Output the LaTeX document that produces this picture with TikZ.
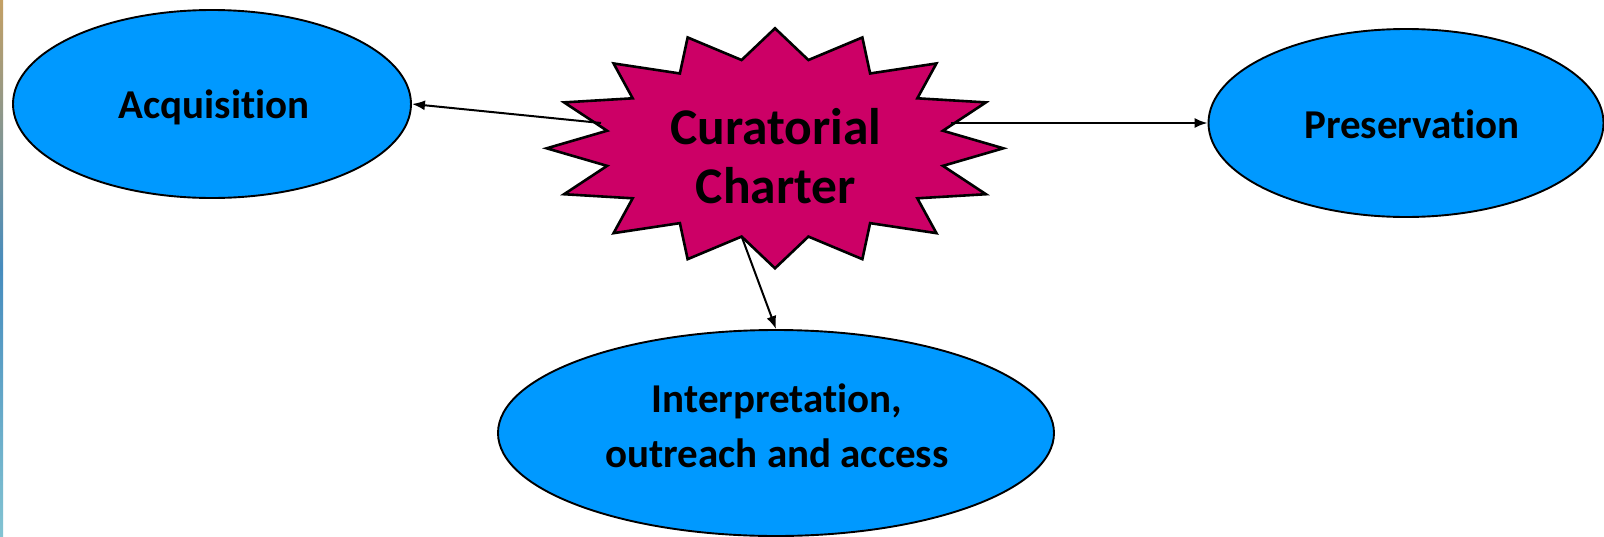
\documentclass[tikz,border=0pt]{standalone}
\usepackage{fontspec}
\setmainfont[Ligatures=NoCommon]{Carlito}
\usetikzlibrary{shapes.geometric,arrows.meta}
\definecolor{topicblue}{RGB}{0,153,255}
\definecolor{charterpink}{RGB}{204,0,102}
\definecolor{stripA}{RGB}{196,160,100}
\definecolor{stripB}{RGB}{70,140,190}
\definecolor{stripC}{RGB}{130,195,210}
\tikzset{
  topic/.style={ellipse, draw=black, line width=1.9pt, fill=topicblue, inner sep=0pt},
  label/.style={font=\bfseries\fontsize{41}{55}\selectfont, align=center, inner sep=0pt},
  starbox/.style={draw=black, line width=2.6pt, fill=charterpink, line join=miter},
  link/.style={draw=black, line width=2pt, -{Latex[length=13pt,width=10pt]}},
}
\begin{document}
\begin{tikzpicture}[x=1pt, y=-1pt]
  % canvas
  \fill[white] (0,0) rectangle (1604,536);
  \useasboundingbox (0,0) rectangle (1604,536);
  \shade[top color=stripA, bottom color=stripC, middle color=stripB] (0,0) rectangle (3,536);

  % topic ellipses
  \node[topic, minimum width=398pt, minimum height=188pt] (acq) at (212,104) {};
  \node[topic, minimum width=395pt, minimum height=188pt] (pres) at (1406,123) {};
  \node[topic, minimum width=556pt, minimum height=206pt] (interp) at (776,433) {};

  \node[label, anchor=base] (acqt) at (214,118.3) {Acquisition};
  \node[label, anchor=base] (prest) at (1412,138) {Preservation};
  \node[label] (interpt) at (777,426) {Interpretation,\\outreach and access};

  % sixteen-point burst
  \draw[starbox, shift={(775,148.3)}] (90:228.3pt and 120pt)
    \foreach \i in {0,...,15}{
      -- ({90+\i*22.5+11.25}:171.2pt and 90pt)
      -- ({90+(\i+1)*22.5}:228.3pt and 120pt)
    } -- cycle;
  \node[font=\bfseries\fontsize{51.5}{58.3}\selectfont, align=center, inner sep=0pt] (cc) at (776,156) {Curatorial\\Charter};

  % points on the burst outline where the links leave
  \coordinate (cc-l) at (601,123);
  \coordinate (cc-r) at (951,123);
  \coordinate (cc-b) at (741.7,236.7);

  \draw[link] (cc-l) -- (acq.east);
  \draw[link] (cc-r) -- (pres.west);
  \draw[link] (cc-b) -- (interp.north);
\end{tikzpicture}
\end{document}
